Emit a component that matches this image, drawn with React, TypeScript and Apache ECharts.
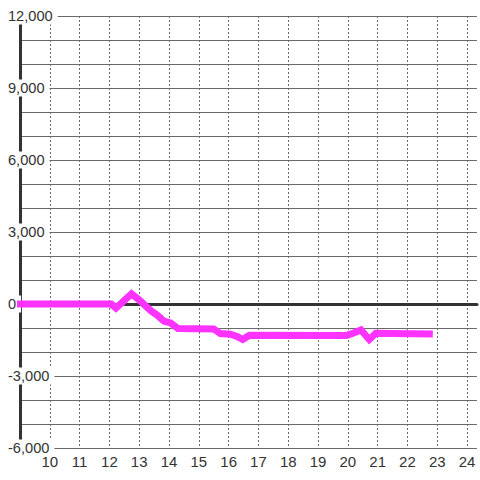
import React, { useEffect, useRef } from "react";
import * as echarts from "echarts";

const xValues: number[] = [
  8.9, 12.06, 12.22, 12.74, 13.0, 13.25, 13.4, 13.6, 13.83, 14.05, 14.3, 15.5,
  15.72, 16.06, 16.3, 16.47, 16.7, 19.95, 20.17, 20.44, 20.72, 20.94, 21.5, 22.85,
];
const yValues: number[] = [
  0, 0, -170, 420, 170, -120, -290, -460, -710, -790, -1020, -1040,
  -1230, -1260, -1360, -1480, -1300, -1310, -1220, -1080, -1480, -1220, -1230, -1250,
];

const xMin = 9;
const xMax = 24.3333;
const yMin = -6000;
const yMax = 12000;
const yLabelStep = 3000;

function fmt(v: number): string {
  const s = Math.abs(v).toString().replace(/\B(?=(\d{3})+(?!\d))/g, ",");
  return (v < 0 ? "-" : "") + s;
}

export default function App() {
  const ref = useRef<HTMLDivElement>(null);
  useEffect(() => {
    if (!ref.current) return;
    const chart = echarts.init(ref.current, undefined, { renderer: "svg" });
    const font = "'Liberation Sans', Arial, sans-serif";
    chart.setOption({
      animation: false,
      backgroundColor: "#ffffff",
      grid: { left: 20, right: 0, top: 16, bottom: 32, containLabel: false },
      xAxis: [
        {
          type: "value",
          min: xMin,
          max: xMax,
          interval: 1,
          position: "bottom",
          axisLine: { show: false, onZero: false },
          axisTick: { show: false },
          axisLabel: {
            fontSize: 15,
            fontFamily: font,
            color: "#333",
            margin: 6,
            formatter: (v: number) =>
              v >= 10 && Math.abs(v - Math.round(v)) < 1e-6 ? String(Math.round(v)) : "",
          },
          splitLine: {
            show: true,
            showMinLine: false,
            showMaxLine: false,
            lineStyle: { color: "#6a6a6a", width: 1, type: [2, 2] },
          },
        },
        {
          type: "value",
          min: xMin,
          max: xMax,
          interval: 1,
          position: "bottom",
          axisLine: { show: true, onZero: true, lineStyle: { color: "#333", width: 3 } },
          axisTick: { show: false },
          axisLabel: { show: false },
          splitLine: { show: false },
        },
      ],
      yAxis: {
        type: "value",
        min: yMin,
        max: yMax,
        interval: 1000,
        axisLine: { show: true, onZero: false, lineStyle: { color: "#333", width: 3 } },
        axisTick: { show: false },
        splitLine: { show: true, lineStyle: { color: "#6a6a6a", width: 1 } },
        axisLabel: {
          align: "left",
          margin: 13,
          formatter: (v: number) => (v % yLabelStep === 0 ? "{b|" + fmt(v) + "}" : ""),
          rich: {
            b: {
              backgroundColor: "#ffffff",
              padding: [1, 5, 1, 1],
              fontSize: 14.6,
              lineHeight: 16,
              fontFamily: font,
              color: "#333",
            },
          },
        },
      },
      series: [
        {
          type: "line",
          xAxisIndex: 0,
          data: xValues.map((x, i) => [x, yValues[i]]),
          showSymbol: false,
          symbol: "none",
          lineStyle: { color: "#ff33ff", width: 7, cap: "butt", join: "miter" },
          z: 5,
        },
      ],
    });
    return () => chart.dispose();
  }, []);
  return (
    <div
      ref={ref}
      style={{ position: "fixed", left: 0, top: 0, width: 480, height: 480, background: "#fff" }}
    />
  );
}
